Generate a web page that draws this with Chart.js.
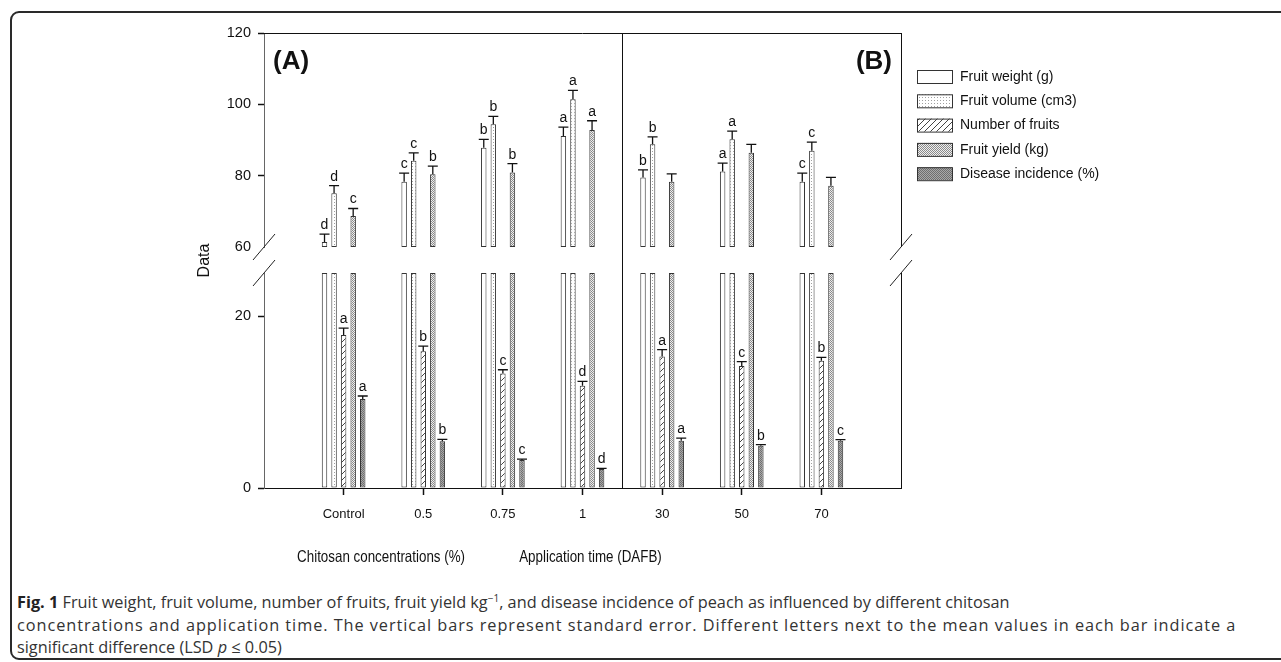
<!DOCTYPE html>
<html>
<head>
<meta charset="utf-8">
<title>Fig. 1 chitosan peach</title>
<script src="https://cdn.jsdelivr.net/npm/chart.js@4.4.1/dist/chart.umd.min.js"></script>
<style>
  html, body { margin: 0; padding: 0; background: #fff; }
  body { width: 1281px; height: 662px; position: relative; overflow: hidden; }
  #box { position: absolute; left: 10px; top: 11px; width: 1300px; height: 645px; border: 2px solid #2a2a2a; border-radius: 9px; }
  #wrap { position: absolute; left: 0; top: 0; width: 1281px; height: 580px; }
  #caption { position: absolute; left: 17px; top: 591px; font-family: "Open Sans", sans-serif; font-size: 16.3px; line-height: 22.5px; color: #333; white-space: nowrap; }
  #caption b { color: #222; }
  #caption sup { font-size: 10px; line-height: 0; }
  #caption .wide { letter-spacing: 0.95px; }
</style>
</head>
<body>
<div id="box"></div>
<div id="wrap"><canvas id="myChart" width="1281" height="580"></canvas></div>
<div id="caption">
  <b>Fig. 1</b> Fruit weight, fruit volume, number of fruits, fruit yield kg<sup>&minus;1</sup>, and disease incidence of peach as influenced by different chitosan<br>
  <span class="wide">concentrations and application time. The vertical bars represent standard error. Different letters next to the mean values in each bar indicate a</span><br>
  significant difference (LSD <i>p</i> &le; 0.05)
</div>
<script>
// categories on the x axis (A: chitosan %, B: days after full bloom)
const categories = ["Control", "0.5", "0.75", "1", "30", "50", "70"];

const fruitWeight = [61.4, 78.3, 87.8, 91.1, 79.5, 81.2, 78.3];
const fruitWeightSE = [2.2, 2.4, 2.4, 2.5, 2.1, 2.3, 2.4];
const fruitVolume = [75.1, 84.2, 94.4, 101.4, 88.8, 90.2, 87.0];
const fruitVolumeSE = [2.1, 2.2, 2.2, 2.5, 2.1, 2.3, 2.4];
const numberFruits = [17.8, 15.9, 13.3, 11.9, 15.3, 14.2, 14.8];
const numberFruitsSE = [0.8, 0.6, 0.45, 0.5, 0.8, 0.5, 0.4];
const fruitYield = [68.7, 80.4, 80.9, 92.8, 78.3, 86.4, 77.2];
const fruitYieldSE = [2.1, 2.3, 2.5, 2.6, 2.2, 2.4, 2.3];
const diseaseIncidence = [10.35, 5.45, 3.25, 2.2, 5.5, 4.9, 5.5];
const diseaseIncidenceSE = [0.35, 0.2, 0.1, 0.08, 0.3, 0.15, 0.12];

const fwLetters = ["d", "c", "b", "a", "b", "a", "c"];
const fvLetters = ["d", "c", "b", "a", "b", "a", "c"];
const nfLetters = ["a", "b", "c", "d", "a", "c", "b"];
const fyLetters = ["c", "b", "b", "a", "", "", ""];
const diLetters = ["a", "b", "c", "d", "a", "b", "c"];

const seriesNames = ["Fruit weight (g)", "Fruit volume (cm3)", "Number of fruits", "Fruit yield (kg)", "Disease incidence (%)"];

// broken y axis: lower and upper segments
const lowRange = [0, 25];
const highRange = [60, 120];
const yStep = 20;

const series = [fruitWeight, fruitVolume, numberFruits, fruitYield, diseaseIncidence];
const seriesSE = [fruitWeightSE, fruitVolumeSE, numberFruitsSE, fruitYieldSE, diseaseIncidenceSE];
const seriesLetters = [fwLetters, fvLetters, nfLetters, fyLetters, diLetters];
const stackKeys = ["fw", "fv", "nf", "fy", "di"];

const SANS = "'Liberation Sans', Arial, sans-serif";

function makePattern(size, draw) {
    var c = document.createElement("canvas");
    c.width = c.height = size;
    var g = c.getContext("2d");
    draw(g, size);
    return g.createPattern(c, "repeat");
}

const fills = [
    "#ffffff",
    makePattern(3, (g) => {
        g.fillStyle = "#fff"; g.fillRect(0, 0, 3, 3);
        g.fillStyle = "#a0a0a0"; g.fillRect(1, 1, 1, 1);
    }),
    makePattern(6, (g) => {
        g.fillStyle = "#fff"; g.fillRect(0, 0, 6, 6);
        g.strokeStyle = "#444"; g.lineWidth = 1;
        g.beginPath();
        g.moveTo(-1, 7); g.lineTo(7, -1);
        g.moveTo(-1, 1); g.lineTo(1, -1);
        g.moveTo(5, 7); g.lineTo(7, 5);
        g.stroke();
    }),
    makePattern(2, (g) => {
        g.fillStyle = "#eeeeee"; g.fillRect(0, 0, 2, 2);
        g.fillStyle = "#8a8a8a"; g.fillRect(0, 0, 1, 1); g.fillRect(1, 1, 1, 1);
    }),
    makePattern(2, (g) => {
        g.fillStyle = "#a8a8a8"; g.fillRect(0, 0, 2, 2);
        g.fillStyle = "#6e6e6e"; g.fillRect(0, 0, 1, 1); g.fillRect(1, 1, 1, 1);
    }),
];

const datasets = [];
series.forEach((vals, s) => {
    datasets.push({
        label: seriesNames[s], stack: stackKeys[s], yAxisID: "yLow",
        data: vals.map((v, i) => ({ x: i + 1, y: [lowRange[0], Math.min(v, lowRange[1])] })),
        backgroundColor: fills[s], borderColor: "#333", borderWidth: 1, borderSkipped: false,
    });
});
series.forEach((vals, s) => {
    datasets.push({
        label: seriesNames[s], stack: stackKeys[s], yAxisID: "yHigh",
        data: vals.map((v, i) => ({ x: i + 1, y: v > highRange[0] ? [highRange[0], Math.min(v, highRange[1])] : null })),
        backgroundColor: fills[s], borderColor: "#333", borderWidth: 1, borderSkipped: false,
    });
});

// error bars + significance letters
const errorBars = {
    id: "errorBars",
    afterDatasetsDraw(chart) {
        var ctx = chart.ctx;
        ctx.save();
        ctx.strokeStyle = "#111";
        ctx.lineWidth = 1.3;
        ctx.fillStyle = "#111";
        ctx.font = "14px " + SANS;
        ctx.textAlign = "center";
        ctx.textBaseline = "alphabetic";
        series.forEach((vals, s) => {
            vals.forEach((v, i) => {
                var low = v <= lowRange[1];
                var meta = chart.getDatasetMeta(low ? s : s + series.length);
                var scale = chart.scales[low ? "yLow" : "yHigh"];
                var bar = meta.data[i];
                if (!bar) return;
                var x = bar.x;
                var y0 = scale.getPixelForValue(v);
                var y1 = scale.getPixelForValue(v + seriesSE[s][i]);
                ctx.beginPath();
                ctx.moveTo(x, y0);
                ctx.lineTo(x, y1);
                ctx.moveTo(x - 5, y1);
                ctx.lineTo(x + 5, y1);
                ctx.stroke();
                var t = seriesLetters[s][i];
                if (t) ctx.fillText(t, x, y1 - 5);
            });
        });
        ctx.restore();
    },
};

// narrow text: squeeze horizontally (no condensed font installed)
function narrowText(ctx, text, x, y, squeeze) {
    ctx.save();
    ctx.translate(x, y);
    ctx.scale(squeeze, 1);
    ctx.fillText(text, 0, 0);
    ctx.restore();
}

// frame, axis breaks, divider, panel labels, titles, legend
const decorations = {
    id: "decorations",
    afterDraw(chart) {
        var ctx = chart.ctx;
        var a = chart.chartArea;
        var xs = chart.scales.x;
        var hi = chart.scales.yHigh;
        var lo = chart.scales.yLow;
        ctx.save();
        ctx.strokeStyle = "#111";
        ctx.lineWidth = 1;
        ctx.beginPath();
        ctx.moveTo(a.left, a.top + 0.5);
        ctx.lineTo(a.right, a.top + 0.5);
        ctx.moveTo(a.right + 0.5, a.top);
        ctx.lineTo(a.right + 0.5, hi.bottom);
        ctx.moveTo(a.right + 0.5, lo.top);
        ctx.lineTo(a.right + 0.5, a.bottom);
        var xd = Math.round(xs.getPixelForValue(4.5)) + 0.5;
        ctx.moveTo(xd, a.top);
        ctx.lineTo(xd, a.bottom);
        ctx.stroke();

        // break marks
        ctx.strokeStyle = "#222";
        ctx.beginPath();
        [a.left, a.right].forEach((x) => {
            [hi.bottom, lo.top].forEach((y) => {
                ctx.moveTo(x - 11, y + 13);
                ctx.lineTo(x + 11, y - 13);
            });
        });
        ctx.stroke();

        ctx.fillStyle = "#111";
        ctx.font = "bold 26px " + SANS;
        ctx.textBaseline = "middle";
        ctx.textAlign = "left";
        ctx.fillText("(A)", a.left + 9, a.top + 29);
        ctx.textAlign = "right";
        ctx.fillText("(B)", a.right - 9, a.top + 29);

        ctx.font = "16.5px " + SANS;
        ctx.textAlign = "center";
        narrowText(ctx, "Chitosan concentrations (%)", xs.getPixelForValue(1.47), a.bottom + 69, 0.81);
        narrowText(ctx, "Application time (DAFB)", xs.getPixelForValue(4.1), a.bottom + 69, 0.81);

        ctx.save();
        ctx.translate(a.left - 59, (a.top + a.bottom) / 2);
        ctx.rotate(-Math.PI / 2);
        ctx.font = "16px " + SANS;
        ctx.fillText("Data", 0, 0);
        ctx.restore();

        // legend
        ctx.font = "14px " + SANS;
        ctx.textAlign = "left";
        ctx.lineWidth = 1;
        ctx.strokeStyle = "#333";
        seriesNames.forEach((name, s) => {
            var y = a.top + 43 + s * 24.3;
            var bx = a.right + 16;
            ctx.fillStyle = fills[s];
            ctx.fillRect(bx, y - 6, 35, 13);
            ctx.strokeRect(bx + 0.5, y - 6 + 0.5, 35, 13);
            ctx.fillStyle = "#111";
            ctx.fillText(name, bx + 43, y + 1);
        });
        ctx.restore();
    },
};

const hideTick = "rgba(0,0,0,0)";

new Chart(document.getElementById("myChart").getContext("2d"), {
    type: "bar",
    data: { datasets: datasets },
    plugins: [errorBars, decorations],
    options: {
        responsive: false,
        animation: false,
        categoryPercentage: 0.6,
        barPercentage: 0.57,
        layout: { padding: { left: 214, right: 380, top: 33, bottom: 0 } },
        plugins: { legend: { display: false }, tooltip: { enabled: false } },
        scales: {
            x: {
                type: "linear", min: 0, max: categories.length + 1, offset: false,
                afterFit: (s) => { s.height = 92; },
                grid: {
                    offset: false, drawOnChartArea: false, tickLength: 7, tickWidth: 1.5,
                    tickColor: (c) => (c.tick && c.tick.value >= 1 && c.tick.value <= categories.length ? "#111" : hideTick),
                },
                border: { color: "#111", width: 1 },
                ticks: {
                    stepSize: 1, autoSkip: false, maxRotation: 0, padding: 12, color: "#111",
                    font: { family: SANS, size: 13 },
                    callback: (v) => categories[v - 1] || "",
                },
            },
            yLow: {
                type: "linear", position: "left", stack: "v", stackWeight: 215, stacked: false,
                min: lowRange[0], max: lowRange[1],
                afterFit: (s) => { s.width = 50; },
                grid: { drawOnChartArea: false, tickLength: 6, tickWidth: 1.5, tickColor: "#111" },
                border: { color: "#666", width: 1 },
                ticks: { stepSize: yStep, includeBounds: false, padding: 7, color: "#111", font: { family: SANS, size: 14.5 } },
            },
            yGap: {
                type: "linear", position: "left", stack: "v", stackWeight: 26, min: 0, max: 1,
                afterFit: (s) => { s.width = 50; },
                grid: { display: false }, border: { display: false }, ticks: { display: false },
            },
            yHigh: {
                type: "linear", position: "left", stack: "v", stackWeight: 214, stacked: false,
                min: highRange[0], max: highRange[1],
                afterFit: (s) => { s.width = 50; },
                grid: {
                    drawOnChartArea: false, tickLength: 6, tickWidth: 1.5,
                    tickColor: (c) => (c.tick && c.tick.value === highRange[0] ? hideTick : "#111"),
                },
                border: { color: "#666", width: 1 },
                ticks: { stepSize: yStep, includeBounds: false, padding: 7, color: "#111", font: { family: SANS, size: 14.5 } },
            },
        },
    },
});
</script>
</body>
</html>
